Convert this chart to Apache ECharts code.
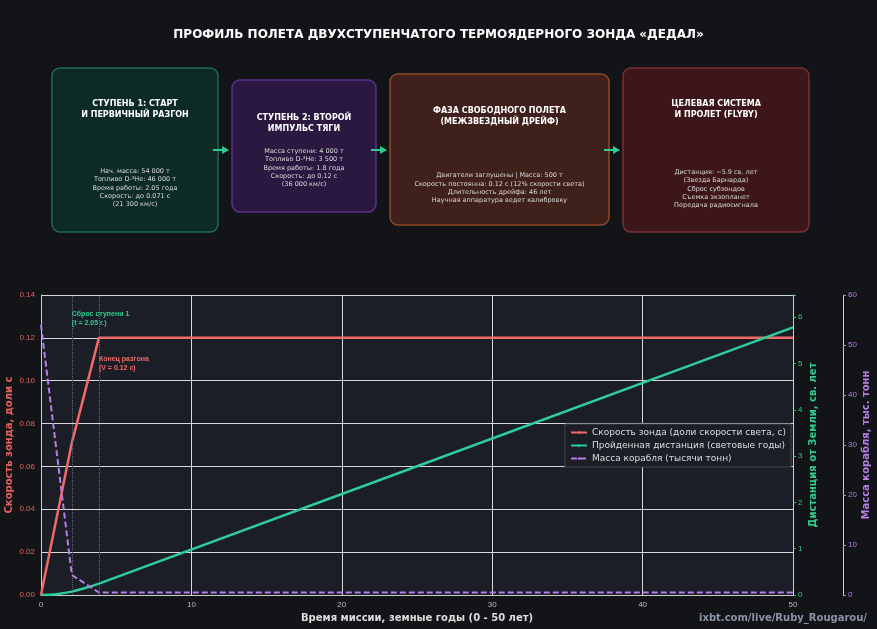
<!DOCTYPE html>
<html><head><meta charset="utf-8">
<script src="https://cdn.jsdelivr.net/npm/echarts@6/dist/echarts.min.js"></script>
<style>html,body{margin:0;background:#131418}#c{width:877px;height:629px}</style>
</head><body><div id="c"></div>
<script>
// mission time, years
var speedData = [[0, 0], [2.05, 0.071], [3.85, 0.12], [50, 0.12]];
var distData = [[0, 0], [1, 0.017], [2.05, 0.073], [3, 0.155], [3.85, 0.245], [50, 5.78]];
var massData = [[0, 54], [2.05, 4], [3.85, 0.5], [50, 0.5]];
var eventTimes = [2.05, 3.85];

var stages = [
  {x: 52, y: 68, w: 166, h: 164, fill: '#0d2b25', stroke: '#1f6b50', ty: 109,
   title: 'СТУПЕНЬ 1: СТАРТ\nИ ПЕРВИЧНЫЙ РАЗГОН', by: 188,
   body: 'Нач. масса: 54 000 т\nТопливо D-³He: 46 000 т\nВремя работы: 2.05 года\nСкорость: до 0.071 с\n(21 300 км/с)'},
  {x: 232, y: 80, w: 144, h: 132, fill: '#2a1840', stroke: '#5a3090', ty: 123,
   title: 'СТУПЕНЬ 2: ВТОРОЙ\nИМПУЛЬС ТЯГИ', by: 168,
   body: 'Масса ступени: 4 000 т\nТопливо D-³He: 3 500 т\nВремя работы: 1.8 года\nСкорость: до 0.12 с\n(36 000 км/с)'},
  {x: 390, y: 74, w: 219, h: 151, fill: '#40201a', stroke: '#8a4a2a', ty: 116,
   title: 'ФАЗА СВОБОДНОГО ПОЛЕТА\n(МЕЖЗВЕЗДНЫЙ ДРЕЙФ)', by: 188,
   body: 'Двигатели заглушены | Масса: 500 т\nСкорость постоянна: 0.12 с (12% скорости света)\nДлительность дрейфа: 46 лет\nНаучная аппаратура ведет калибровку'},
  {x: 623, y: 68, w: 186, h: 164, fill: '#3d1619', stroke: '#7a3035', ty: 109,
   title: 'ЦЕЛЕВАЯ СИСТЕМА\nИ ПРОЛЕТ (FLYBY)', by: 189,
   body: 'Дистанция: ~5.9 св. лет\n(Звезда Барнарда)\nСброс субзондов\nСъемка экзопланет\nПередача радиосигнала'}
];

var graphic = [];
stages.forEach(function (s, i) {
  graphic.push({type: 'rect', shape: {x: s.x, y: s.y, width: s.w, height: s.h, r: 8},
    style: {fill: s.fill, stroke: s.stroke, lineWidth: 1.5}});
  graphic.push({type: 'text', x: s.x + s.w / 2, y: s.ty, style: {text: s.title, fill: '#fff',
    font: 'bold 8px DejaVu Sans', align: 'center', verticalAlign: 'middle', lineHeight: 11}});
  graphic.push({type: 'text', x: s.x + s.w / 2, y: s.by, style: {text: s.body, fill: '#d8d8d8',
    font: '6.5px DejaVu Sans', align: 'center', verticalAlign: 'middle', lineHeight: 8.3}});
  if (i < stages.length - 1) {
    var x0 = s.x + s.w - 5, x1 = stages[i + 1].x - 3, y = 150;
    graphic.push({type: 'line', shape: {x1: x0, y1: y, x2: x1 - 5, y2: y}, style: {stroke: '#2ecc8f', lineWidth: 2}});
    graphic.push({type: 'polygon', shape: {points: [[x1 - 7, y - 4], [x1, y], [x1 - 7, y + 4]]}, style: {fill: '#2ecc8f'}});
  }
});
graphic.push({type: 'rect', shape: {x: 41, y: 295, width: 752, height: 300}, style: {fill: '#1b1e26'}, z: -10});
graphic.push({type: 'text', right: 10, top: 613, style: {text: 'ixbt.com/live/Ruby_Rougarou/',
  fill: '#8a93a8', font: 'bold 10px DejaVu Sans'}});

var chart = echarts.init(document.getElementById('c'));
chart.setOption({
  backgroundColor: '#131418',
  animation: false,
  title: {text: 'ПРОФИЛЬ ПОЛЕТА ДВУХСТУПЕНЧАТОГО ТЕРМОЯДЕРНОГО ЗОНДА «ДЕДАЛ»', left: 'center', top: 24,
    textStyle: {color: '#fff', fontSize: 12, fontWeight: 'bold', fontFamily: 'DejaVu Sans'}},
  graphic: graphic,
  grid: {left: 41, right: 84, top: 295, bottom: 34, containLabel: false, outerBoundsMode: 'none'},
  legend: {orient: 'vertical', right: 86, top: 424, itemWidth: 16, itemHeight: 3, itemGap: 4,
    backgroundColor: '#1b1e26', borderColor: '#444', borderWidth: 1, padding: [4, 5],
    textStyle: {color: '#ddd', fontSize: 9, fontFamily: 'DejaVu Sans'}},
  xAxis: {type: 'value', min: 0, max: 50, interval: 10,
    name: 'Время миссии, земные годы (0 - 50 лет)', nameLocation: 'middle', nameGap: 18, nameMoveOverlap: false,
    nameTextStyle: {color: '#ddd', fontWeight: 'bold', fontSize: 10, fontFamily: 'DejaVu Sans'},
    axisLine: {lineStyle: {color: '#ccc'}}, axisTick: {show: false},
    axisLabel: {color: '#bbb', fontSize: 8, margin: 6},
    splitLine: {lineStyle: {color: '#d8d8d8', width: 1}}},
  yAxis: [
    {type: 'value', min: 0, max: 0.14, interval: 0.02, position: 'left',
      name: 'Скорость зонда, доли с', nameLocation: 'middle', nameGap: 27, nameMoveOverlap: false,
      nameTextStyle: {color: '#e8605e', fontWeight: 'bold', fontSize: 10, fontFamily: 'DejaVu Sans'},
      axisLine: {show: true, lineStyle: {color: '#ccc'}}, axisTick: {show: false},
      axisLabel: {color: '#e8605e', fontSize: 8, margin: 6, formatter: function (v) { return v.toFixed(2); }},
      splitLine: {lineStyle: {color: '#d8d8d8', width: 1}}},
    {type: 'value', min: 0, max: 6.48, interval: 1, position: 'right',
      name: 'Дистанция от Земли, св. лет', nameLocation: 'middle', nameGap: 15, nameMoveOverlap: false,
      nameTextStyle: {color: '#2ecc8f', fontWeight: 'bold', fontSize: 10, fontFamily: 'DejaVu Sans'},
      axisLine: {show: true, lineStyle: {color: '#ccc'}}, axisTick: {show: true, length: 3, lineStyle: {color: '#2ecc8f'}},
      axisLabel: {color: '#2ecc8f', fontSize: 8, margin: 5, formatter: function (v) { return Number.isInteger(v) ? v : ''; }},
      splitLine: {show: false}},
    {type: 'value', min: 0, max: 60, interval: 10, position: 'right', offset: 50,
      name: 'Масса корабля, тыс. тонн', nameLocation: 'middle', nameGap: 18, nameMoveOverlap: false,
      nameTextStyle: {color: '#b57ee8', fontWeight: 'bold', fontSize: 10, fontFamily: 'DejaVu Sans'},
      axisLine: {show: true, lineStyle: {color: '#ccc'}}, axisTick: {show: true, length: 3, lineStyle: {color: '#b57ee8'}},
      axisLabel: {color: '#b57ee8', fontSize: 8, margin: 5},
      splitLine: {show: false}}
  ],
  series: [
    {name: 'Скорость зонда (доли скорости света, с)', type: 'line', yAxisIndex: 0, data: speedData,
      symbol: 'none', lineStyle: {color: '#f06a68', width: 2.5}, itemStyle: {color: '#f06a68'},
      markLine: {silent: true, symbol: 'none', label: {show: false},
        lineStyle: {color: '#666d80', type: 'dotted', width: 1},
        data: eventTimes.map(function (t) { return {xAxis: t}; })},
      markPoint: {symbol: 'circle', symbolSize: 0, data: [
        {coord: [2.05, 0.129], label: {show: true, position: 'right', distance: 0, color: '#2ecc8f', fontSize: 7,
          fontWeight: 'bold', lineHeight: 9, formatter: 'Сброс ступени 1\n(t = 2.05 г.)'}},
        {coord: [3.85, 0.108], label: {show: true, position: 'right', distance: 0, color: '#f06a68', fontSize: 7,
          fontWeight: 'bold', lineHeight: 9, formatter: 'Конец разгона\n(V = 0.12 с)'}}
      ]}},
    {name: 'Пройденная дистанция (световые годы)', type: 'line', yAxisIndex: 1, data: distData, smooth: 0.3,
      symbol: 'none', lineStyle: {color: '#2ecc9a', width: 2.5}, itemStyle: {color: '#2ecc9a'}},
    {name: 'Масса корабля (тысячи тонн)', type: 'line', yAxisIndex: 2, data: massData,
      symbol: 'none', lineStyle: {color: '#b57ee8', width: 2, type: [6, 3]}, itemStyle: {color: '#b57ee8'}}
  ]
});
</script></body></html>
